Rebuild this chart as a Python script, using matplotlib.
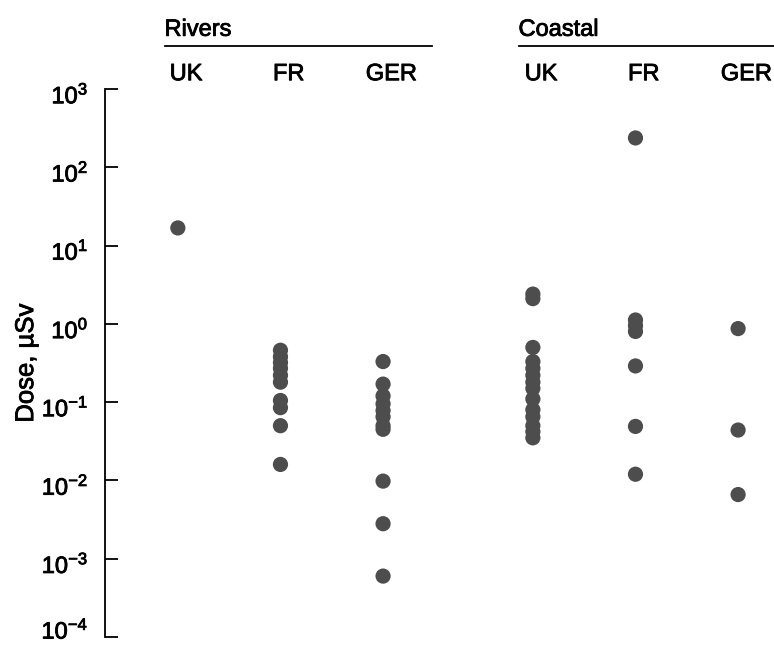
import numpy as np
import matplotlib.pyplot as plt
import matplotlib.transforms as mtransforms
import matplotlib.patheffects as pe

plt.rcParams['font.family'] = ['Liberation Sans', 'DejaVu Sans']

# Doses, uSv
groups = ['Rivers', 'Coastal']
countries = ['UK', 'FR', 'GER']
rivers_uk = [16.8]
rivers_fr = [0.46, 0.38, 0.32, 0.27, 0.22, 0.18, 0.105, 0.085, 0.05, 0.016]
rivers_ger = [0.33, 0.17, 0.12, 0.095, 0.078, 0.065, 0.05, 0.045, 0.0098, 0.0028, 0.0006]
coastal_uk = [2.4, 2.1, 0.5, 0.33, 0.27, 0.22, 0.18, 0.15, 0.11, 0.08, 0.065,
              0.05, 0.042, 0.035]
coastal_fr = [237, 1.12, 0.95, 0.8, 0.29, 0.049, 0.012]
coastal_ger = [0.87, 0.044, 0.0066]

data = [rivers_uk, rivers_fr, rivers_ger, coastal_uk, coastal_fr, coastal_ger]
xpos = [0, 1, 2, 3.46, 4.46, 5.46]

heavy = [pe.withStroke(linewidth=0.6, foreground='black')]

fig = plt.figure(figsize=(7.74, 6.46), dpi=100)
ax = fig.add_axes([105/774, 9/646, 1 - 105/774, 548/646])

for x, vals in zip(xpos, data):
    ax.scatter(np.full(len(vals), x), vals, s=120, color='#4d4d4d',
               edgecolors='none', zorder=3, clip_on=False)

ax.set_yscale('log')
ax.set_ylim(1e-4, 1e3)
ax.set_xlim(-0.71, 5.81)
ax.set_yticks([10.0**k for k in range(-4, 4)])
ax.minorticks_off()
ax.set_xticks([])
for s in ['top', 'right', 'bottom']:
    ax.spines[s].set_visible(False)
ax.spines['left'].set_linewidth(1.3)
ax.tick_params(axis='y', direction='in', length=9, width=1.3, pad=12,
               labelsize=17)
labels = ax.get_yticklabels()
for i, lab in enumerate(labels):
    dy = 6 if i == 0 else -3
    shift = mtransforms.ScaledTranslation(0, dy/72, fig.dpi_scale_trans)
    lab.set_transform(lab.get_transform() + shift)
    lab.set_path_effects(heavy)

ax.set_ylabel('Dose, µSv', fontsize=18.5, path_effects=heavy)
ax.yaxis.set_label_coords(-0.10, 0.5)

trans = mtransforms.blended_transform_factory(ax.transData, ax.transAxes)
for x, c in zip(xpos, countries * 2):
    ax.text(x + 0.08, 1.027, c, transform=trans, ha='center', va='center',
            fontsize=17, clip_on=False, path_effects=heavy)

line_spans = [(-0.13, 2.48), (3.32, 6.2)]
for (x0, x1), g in zip(line_spans, groups):
    ax.plot([x0, x1], [1.0785, 1.0785], transform=trans, color='black',
            lw=1.3, clip_on=False)
    ax.text(x0, 1.108, g, transform=trans, ha='left', va='center',
            fontsize=17, clip_on=False, path_effects=heavy)

fig.savefig('out.png', dpi=100)
